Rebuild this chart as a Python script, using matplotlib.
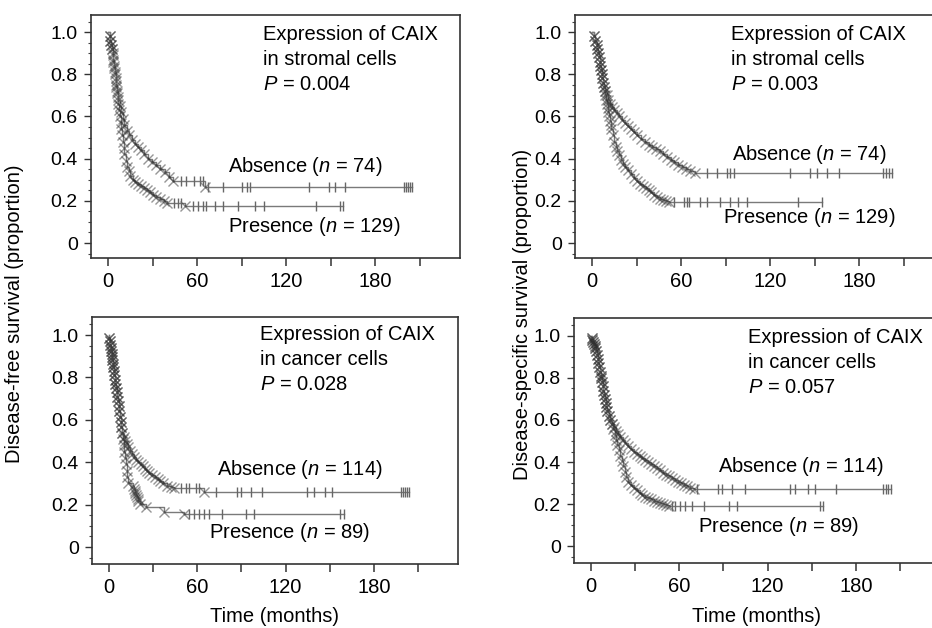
import numpy as np
import matplotlib.pyplot as plt
from matplotlib.ticker import MultipleLocator, FixedLocator

plt.rcParams['font.family'] = ['Liberation Sans', 'DejaVu Sans']
plt.rcParams['mathtext.fontset'] = 'custom'
plt.rcParams['mathtext.rm'] = 'Liberation Sans'
plt.rcParams['mathtext.it'] = 'Liberation Sans:italic'

# ---- data (time in months, survival proportion) ----
# disease-free survival, stromal cells
dfs_str_abs_t = [0, 1, 1.5, 2, 2.5, 3, 3.5, 4, 4.5, 5, 5.5, 6, 7, 8, 9, 10, 11, 12.5, 14, 16, 18, 20,
                 22, 24.5, 27, 29.5, 32, 35, 38, 41, 44, 65]
dfs_str_abs_s = [1.0, 0.98, 0.96, 0.94, 0.92, 0.89, 0.86, 0.83, 0.80, 0.77, 0.74, 0.71, 0.68, 0.65, 0.62,
                 0.59, 0.56, 0.53, 0.51, 0.49, 0.47, 0.455, 0.44, 0.42, 0.40, 0.385, 0.37, 0.35, 0.335,
                 0.315, 0.295, 0.265]
dfs_str_abs_cens = [49, 52.5, 58, 61.6, 63.9, 67.3, 77.5, 90, 93.4, 95.7, 135.4, 149, 152.5, 159.3,
                    199, 200.5, 202, 203.5, 204.5]
dfs_str_pre_t = [0, 1, 1.5, 2, 2.5, 3, 3.5, 4, 4.5, 5, 5.5, 6, 6.5, 7, 7.5, 8, 8.5, 9, 9.5, 10, 10.5,
                 11, 12, 13, 14, 15, 16.5, 18, 20, 22, 24, 26, 28, 30, 32.5, 35, 37.5, 40, 52]
dfs_str_pre_s = [1.0, 0.98, 0.96, 0.94, 0.92, 0.90, 0.87, 0.84, 0.81, 0.78, 0.75, 0.72, 0.69, 0.66,
                 0.63, 0.60, 0.57, 0.54, 0.51, 0.48, 0.45, 0.42, 0.39, 0.36, 0.34, 0.32, 0.30, 0.29,
                 0.28, 0.27, 0.26, 0.25, 0.24, 0.23, 0.22, 0.21, 0.20, 0.19, 0.175]
dfs_str_pre_cens = [44.5, 46.8, 49, 57, 60.5, 63.9, 66.1, 71.8, 77.5, 87.7, 99, 104.8, 140, 156, 158]

# disease-specific survival, stromal cells
dss_str_abs_t = [0, 1, 2, 3, 3.5, 4, 4.5, 5, 5.5, 6, 6.5, 7, 7.5, 8, 9, 10, 11, 12, 13.5, 15, 16.5,
                 18, 20, 22, 24, 26, 28, 30.5, 33, 35.5, 38, 40.5, 43, 45.5, 48, 50.5, 53, 55.5, 58,
                 60.5, 63, 66, 69]
dss_str_abs_s = [1.0, 0.98, 0.96, 0.94, 0.92, 0.90, 0.88, 0.86, 0.84, 0.82, 0.80, 0.78, 0.76, 0.74,
                 0.72, 0.70, 0.68, 0.66, 0.645, 0.63, 0.615, 0.60, 0.585, 0.57, 0.555, 0.54, 0.525,
                 0.51, 0.495, 0.48, 0.465, 0.455, 0.445, 0.435, 0.42, 0.41, 0.395, 0.385, 0.37, 0.36,
                 0.35, 0.34, 0.33]
dss_str_abs_cens = [77.3, 84, 90.8, 93, 95.3, 133.5, 147, 151.5, 158.2, 166, 196, 198, 200, 202]
dss_str_pre_t = [0, 1, 2, 3, 3.5, 4, 4.5, 5, 5.5, 6, 6.5, 7, 7.5, 8, 8.5, 9, 9.5, 10, 10.5, 11, 11.5,
                 12, 12.5, 13, 14, 15, 16, 17, 18, 19.5, 21, 22.5, 24, 26, 28, 30, 32, 34, 36, 38, 40,
                 42, 44, 46, 48, 50, 52]
dss_str_pre_s = [1.0, 0.98, 0.96, 0.94, 0.92, 0.90, 0.88, 0.86, 0.84, 0.82, 0.80, 0.78, 0.76, 0.74,
                 0.72, 0.70, 0.68, 0.66, 0.64, 0.62, 0.60, 0.58, 0.56, 0.54, 0.51, 0.48, 0.455, 0.435,
                 0.415, 0.395, 0.375, 0.36, 0.345, 0.325, 0.31, 0.295, 0.28, 0.27, 0.26, 0.25, 0.24,
                 0.23, 0.22, 0.21, 0.205, 0.20, 0.195]
dss_str_pre_cens = [55, 61.6, 63.9, 65, 72.8, 77.3, 86.3, 93, 98.6, 104.3, 139, 154.8]

# disease-free survival, cancer cells
dfs_can_abs_t = [0, 0.3, 0.6, 0.9, 1.2, 1.5, 1.8, 2.1, 2.4, 2.7, 3, 3.3, 3.6, 4, 4.4, 4.8, 5.2, 5.6, 6,
                 6.5, 7, 7.5, 8, 8.5, 9, 10, 11, 12, 13, 14, 15.5, 17, 18.5, 20, 21.5, 23, 24.5, 26,
                 27.5, 29, 31, 33, 35, 37, 39.5, 42, 44.5, 64.5]
dfs_can_abs_s = [1.0, 0.985, 0.97, 0.955, 0.94, 0.925, 0.91, 0.895, 0.88, 0.865, 0.85, 0.83, 0.81,
                 0.79, 0.77, 0.75, 0.73, 0.71, 0.69, 0.665, 0.64, 0.615, 0.59, 0.565, 0.54, 0.52, 0.50,
                 0.485, 0.47, 0.455, 0.44, 0.425, 0.41, 0.40, 0.39, 0.38, 0.37, 0.36, 0.35, 0.34,
                 0.33, 0.32, 0.31, 0.30, 0.29, 0.283, 0.277, 0.258]
dfs_can_abs_cens = [48.8, 52.2, 54.4, 59, 61.2, 72.5, 87.1, 89.4, 96.2, 104.1, 134.5, 139, 147, 151.5,
                    198, 199.5, 201, 202.5, 203.4]
dfs_can_pre_t = [0, 0.3, 0.6, 0.9, 1.2, 1.5, 1.8, 2.1, 2.4, 2.7, 3, 3.3, 3.6, 4, 4.4, 4.8, 5.2, 5.6, 6,
                 6.5, 7, 7.5, 8, 8.5, 9, 9.5, 10, 10.5, 11, 11.5, 12, 12.5, 13, 16, 17, 17.5, 18, 18.5,
                 19, 19.5, 20, 21, 25, 37.5, 51]
dfs_can_pre_s = [1.0, 0.985, 0.97, 0.955, 0.94, 0.925, 0.91, 0.895, 0.88, 0.865, 0.85, 0.83, 0.81,
                 0.79, 0.77, 0.75, 0.73, 0.71, 0.69, 0.665, 0.64, 0.615, 0.59, 0.565, 0.54, 0.51, 0.48,
                 0.45, 0.42, 0.39, 0.36, 0.33, 0.30, 0.29, 0.275, 0.265, 0.255, 0.245, 0.235, 0.225,
                 0.215, 0.205, 0.19, 0.167, 0.155]
dfs_can_pre_cens = [54.4, 57.8, 61.2, 64.5, 67.9, 77, 92.8, 98.4, 157.1, 159.4]

# disease-specific survival, cancer cells
dss_can_abs_t = [0, 0.5, 1, 1.5, 2, 2.5, 3, 3.5, 4, 4.5, 5, 5.5, 6, 6.5, 7, 7.5, 8, 8.5, 9, 9.5, 10,
                 10.5, 11, 12, 13, 14, 15.5, 17, 18.5, 20, 21.5, 23, 25, 27, 29, 31, 33, 35, 37, 39,
                 41, 43, 45, 47, 49, 51, 53, 55, 57, 59, 61, 63, 65, 67, 70]
dss_can_abs_s = [1.0, 0.99, 0.98, 0.97, 0.96, 0.95, 0.94, 0.93, 0.91, 0.89, 0.87, 0.85, 0.83, 0.81,
                 0.80, 0.78, 0.76, 0.74, 0.72, 0.70, 0.68, 0.66, 0.645, 0.62, 0.60, 0.58, 0.565, 0.55,
                 0.535, 0.52, 0.505, 0.49, 0.475, 0.46, 0.45, 0.44, 0.43, 0.42, 0.41, 0.40, 0.39,
                 0.38, 0.37, 0.36, 0.35, 0.34, 0.335, 0.325, 0.315, 0.305, 0.30, 0.29, 0.285, 0.278,
                 0.27]
dss_can_abs_cens = [71.9, 86.6, 88.9, 95.6, 104.7, 135.1, 138.5, 147.5, 152, 166.6, 198, 200, 202,
                    203.7]
dss_can_pre_t = [0, 0.5, 1, 1.5, 2, 2.5, 3, 3.5, 4, 4.5, 5, 5.5, 6, 6.5, 7, 7.5, 8, 8.5, 9, 9.5, 10,
                 10.5, 11, 12, 13, 14, 15, 16, 17, 18, 19, 20, 21, 22, 23, 24, 25.5, 27, 29, 31, 33,
                 35, 37, 39, 41, 43, 45, 47, 49, 51, 53]
dss_can_pre_s = [1.0, 0.99, 0.98, 0.97, 0.96, 0.95, 0.94, 0.93, 0.91, 0.89, 0.87, 0.85, 0.83, 0.81,
                 0.80, 0.78, 0.76, 0.74, 0.72, 0.70, 0.68, 0.66, 0.645, 0.62, 0.60, 0.58, 0.555, 0.53,
                 0.505, 0.48, 0.455, 0.43, 0.405, 0.38, 0.355, 0.33, 0.305, 0.29, 0.275, 0.265, 0.255,
                 0.245, 0.235, 0.23, 0.225, 0.215, 0.21, 0.205, 0.20, 0.195, 0.19]
dss_can_pre_cens = [55, 57.3, 60.7, 64.1, 68.6, 76.5, 93.4, 99, 155.5, 157.8]

x_ticks = [0, 30, 60, 90, 120, 150, 180, 210]
x_labels = ['0', '', '60', '', '120', '', '180', '']
y_ticks = [0, 0.2, 0.4, 0.6, 0.8, 1.0]
y_labels = ['0', '0.2', '0.4', '0.6', '0.8', '1.0']

W, H = 932, 628
fig = plt.figure(figsize=(W / 100, H / 100), dpi=100)


def px_axes(l, t, r, b):
    return fig.add_axes([l / W, 1 - b / H, (r - l) / W, (b - t) / H])


def km(ax, t, s, cens):
    t = np.asarray(t)
    s = np.asarray(s)
    end = max(max(cens), t[-1])
    ax.step(np.append(t, end), np.append(s, s[-1]), where='post', color='#7a7a7a', lw=1.0, zorder=2)
    ax.plot(t[1:], s[1:], ls='none', marker='x', ms=7.5, mew=1.0, color='#2e2e2e', alpha=0.5, zorder=3)
    idx = np.searchsorted(t, cens, side='right') - 1
    ax.plot(cens, s[idx], ls='none', marker='|', ms=6.5, mew=1.0, color='#666666', zorder=3)


panels = [
    dict(box=(91, 15, 460, 258), ylim=(-0.071, 1.081),
         abs_=(dfs_str_abs_t, dfs_str_abs_s, dfs_str_abs_cens),
         pre=(dfs_str_pre_t, dfs_str_pre_s, dfs_str_pre_cens),
         head=(263, 40, 'in stromal cells', '0.004'),
         abs_txt=(228, 172, '74'), pre_txt=(228, 232, '129')),
    dict(box=(575, 15, 944, 258), ylim=(-0.071, 1.081),
         abs_=(dss_str_abs_t, dss_str_abs_s, dss_str_abs_cens),
         pre=(dss_str_pre_t, dss_str_pre_s, dss_str_pre_cens),
         head=(731, 40, 'in stromal cells', '0.003'),
         abs_txt=(732, 160, '74'), pre_txt=(723, 223, '129')),
    dict(box=(92, 317, 458, 564), ylim=(-0.080, 1.085),
         abs_=(dfs_can_abs_t, dfs_can_abs_s, dfs_can_abs_cens),
         pre=(dfs_can_pre_t, dfs_can_pre_s, dfs_can_pre_cens),
         head=(260, 340, 'in cancer cells', '0.028'),
         abs_txt=(217, 475, '114'), pre_txt=(209, 538, '89')),
    dict(box=(574, 318, 940, 563), ylim=(-0.080, 1.085),
         abs_=(dss_can_abs_t, dss_can_abs_s, dss_can_abs_cens),
         pre=(dss_can_pre_t, dss_can_pre_s, dss_can_pre_cens),
         head=(748, 343, 'in cancer cells', '0.057'),
         abs_txt=(718, 472, '114'), pre_txt=(698, 532, '89')),
]

fs = 14.5
for p in panels:
    ax = px_axes(*p['box'])
    km(ax, *p['pre'])
    km(ax, *p['abs_'])
    ax.set_xlim(-11.5, 237)
    ax.set_ylim(*p['ylim'])
    ax.xaxis.set_major_locator(FixedLocator(x_ticks))
    ax.set_xticklabels(x_labels)
    ax.set_yticks(y_ticks)
    ax.set_yticklabels(y_labels)
    ax.yaxis.set_minor_locator(MultipleLocator(0.05))
    ax.tick_params(axis='x', length=6, width=1.1, pad=4, labelsize=fs, color='#333333')
    ax.tick_params(axis='y', which='major', length=5, width=1.0, pad=4.5, labelsize=14, color='#333333')
    ax.tick_params(axis='y', which='minor', length=2.5, width=0.8, color='#444444')
    for sp in ax.spines.values():
        sp.set_linewidth(1.2)
        sp.set_color('#333333')

    hx, hy, line2, pval = p['head']
    fig.text(hx / W, 1 - hy / H, 'Expression of CAIX', fontsize=fs, va='baseline')
    fig.text(hx / W, 1 - (hy + 25) / H, line2, fontsize=fs, va='baseline')
    fig.text(hx / W, 1 - (hy + 50) / H, '$P$ = ' + pval, fontsize=fs, va='baseline')
    ax_, ay_, an = p['abs_txt']
    fig.text(ax_ / W, 1 - ay_ / H, 'Absence ($n$ = ' + an + ')', fontsize=fs, va='baseline')
    px_, py_, pn = p['pre_txt']
    fig.text(px_ / W, 1 - py_ / H, 'Presence ($n$ = ' + pn + ')', fontsize=fs, va='baseline')

fig.text(15 / W, 0.5, 'Disease-free survival (proportion)', rotation=90, fontsize=fs,
         ha='center', va='center')
fig.text(522 / W, 0.5, 'Disease-specific survival (proportion)', rotation=90, fontsize=fs,
         ha='center', va='center')
fig.text(275 / W, 1 - 617 / H, 'Time (months)', fontsize=fs, ha='center', va='center')
fig.text(757 / W, 1 - 617 / H, 'Time (months)', fontsize=fs, ha='center', va='center')

fig.savefig('out.png', dpi=100)
